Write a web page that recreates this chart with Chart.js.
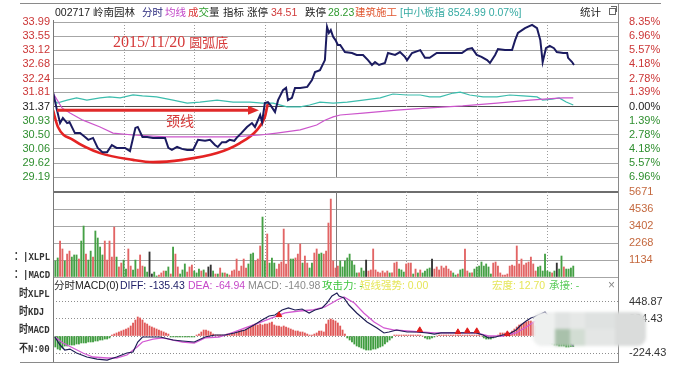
<!DOCTYPE html>
<html lang="zh">
<head>
<meta charset="UTF-8">
<title>002717 岭南园林 分时</title>
<script src="https://cdn.jsdelivr.net/npm/chart.js"></script>
<style>
  html, body { margin: 0; padding: 0; background: #fff; }
  body {
    width: 677px; height: 372px; position: relative; overflow: hidden;
    font-family: 'Liberation Sans', 'Noto Sans CJK SC', sans-serif;
    font-size: 10.5px; color: #222;
  }
  canvas { position: absolute; left: 0; }
  .t { position: absolute; white-space: nowrap; line-height: 12px; }
  .ln { position: absolute; background: #8a8a8a; }
  .tab {
    position: absolute; white-space: nowrap; line-height: 12px;
    font-family: 'Liberation Mono', 'Noto Sans CJK SC', monospace;
    font-weight: bold; font-size: 11px; color: #333;
    transform: scaleX(0.82); transform-origin: left center;
  }
  .note { position: absolute; white-space: nowrap; color: #d63a3a; }
  #smudge { position: absolute; left: 533px; top: 312px; width: 113px; height: 34px;
            border-radius: 9px; background: #e7e9e8; filter: blur(1.6px); overflow: hidden; }
  #smudge i { position: absolute; display: block; }
</style>
</head>
<body>

<canvas id="price" width="677" height="185" style="top:0"></canvas>
<canvas id="vol" width="677" height="102" style="top:180px"></canvas>
<canvas id="macd" width="677" height="90" style="top:282px"></canvas>

<!-- frame -->
<div class="ln" style="left:20px;top:3px;width:641px;height:1px"></div>
<div class="ln" style="left:618px;top:3px;width:1px;height:360px"></div>
<div class="ln" style="left:53px;top:20px;width:1px;height:343px;background:#777"></div>
<div class="ln" style="left:20px;top:362px;width:599px;height:1px"></div>

<!-- header -->
<div class="t" style="left:55px;top:6px">002717 岭南园林</div>
<div class="t" style="left:142px;top:6px;color:#25257a">分时</div>
<div class="t" style="left:165px;top:6px;color:#c244c8">均线</div>
<div class="t" style="left:188px;top:6px"><span style="color:#d83232">成</span><span style="color:#2e9e2e">交</span>量</div>
<div class="t" style="left:223px;top:6px">指标</div>
<div class="t" style="left:247px;top:6px">涨停</div>
<div class="t" style="left:271px;top:6px;color:#d03a3a">34.51</div>
<div class="t" style="left:305px;top:6px">跌停</div>
<div class="t" style="left:328px;top:6px;color:#2e9a2e">28.23</div>
<div class="t" style="left:355px;top:6px;color:#e0552e">建筑施工</div>
<div class="t" style="left:400px;top:6px;color:#35aaa2">[中小板指 8524.99 0.07%]</div>
<div class="t" style="left:580px;top:6px">统计</div>
<div style="position:absolute;left:609px;top:8px;width:5px;height:5px;border:1px solid #666"></div>
<div style="position:absolute;left:611px;top:6px;width:5px;height:5px;border-top:1px solid #666;border-right:1px solid #666"></div>

<!-- annotations -->
<div class="note" style="left:113px;top:32px;font:16px 'Liberation Serif',serif;line-height:18px">2015/11/20 <span style="font:13px 'Noto Sans CJK SC';">圆弧底</span></div>
<div class="note" style="left:166px;top:112px;font:14px 'Noto Sans CJK SC';line-height:16px">颈线</div>

<!-- left tabs -->
<div class="tab" style="left:14px;top:251px">：|XLPL</div>
<div class="tab" style="left:14px;top:269px">：|MACD</div>
<div class="tab" style="left:19px;top:288px">时XLPL</div>
<div class="tab" style="left:19px;top:306px">时KDJ</div>
<div class="tab" style="left:19px;top:324px">时MACD</div>
<div class="tab" style="left:19px;top:343px">不N:00</div>

<!-- indicator header -->
<div class="t" style="left:54px;top:279px">分时MACD(0)</div>
<div class="t" style="left:120px;top:279px;color:#22226a">DIFF: -135.43</div>
<div class="t" style="left:188px;top:279px;color:#c648c8">DEA: -64.94</div>
<div class="t" style="left:248px;top:279px;color:#8a8a8a">MACD: -140.98</div>
<div class="t" style="left:322px;top:279px;color:#3cc43c">攻击力: -</div>
<div class="t" style="left:360px;top:279px;color:#e6e65a;filter:blur(0.5px)">短线强势: 0.00</div>
<div class="t" style="left:492px;top:279px;color:#e6e65a;filter:blur(0.5px)">宏度: 12.70</div>
<div class="t" style="left:549px;top:279px;color:#5ccc5c;filter:blur(0.4px)">承接: -</div>
<div class="t" style="left:608px;top:279px;color:#888;font-size:12px">×</div>

<div id="smudge">
  <i style="left:0;top:0;width:22px;height:34px;background:#eef0ef"></i>
  <i style="left:22px;top:0;width:15px;height:17px;background:#e0e3e2"></i>
  <i style="left:37px;top:0;width:15px;height:17px;background:#e6e8e7"></i>
  <i style="left:52px;top:0;width:30px;height:17px;background:#dfe2e1"></i>
  <i style="left:82px;top:0;width:31px;height:34px;background:#dadcdb"></i>
  <i style="left:22px;top:17px;width:15px;height:17px;background:#a9c1ab"></i>
  <i style="left:37px;top:17px;width:15px;height:17px;background:#d2ddd3"></i>
  <i style="left:52px;top:17px;width:30px;height:17px;background:#e4e6e5"></i>
</div>

<script>
// time axis: minutes from 9:30, 240 in the session
const halfHours = [30, 60, 90, 120, 150, 180, 210];

// price panel
const prevClose = 31.37;
const priceTicks = [29.19, 29.62, 30.06, 30.50, 30.93, 31.37, 31.81, 32.24, 32.68, 33.12, 33.55, 33.99];
const pctTicks = ['6.96%', '5.57%', '4.18%', '2.78%', '1.39%', '0.00%', '1.39%', '2.78%', '4.18%', '5.57%', '6.96%', '8.35%'];

const priceMin = [0, 1.7, 3, 4.2, 6, 7, 9.3, 11.5, 13.6, 15,
  17, 19, 21, 23, 25, 27, 28.5, 30.6, 32.7, 35,
  36, 38, 40, 42.5, 45.5, 47.6, 49, 50.5, 52.7, 54.8,
  57, 59.5, 61.6, 64.6, 66.7, 68.8, 70, 71.8, 73.5, 75,
  77, 78, 80, 82.4, 84.5, 85.8, 88, 88.8, 90, 91.3,
  92.6, 94.3, 95.6, 97.7, 99, 99.8, 101.5, 102.8, 105, 108,
  110, 111.3, 113.4, 115.5, 116.4, 117.2, 118, 119, 120, 121,
  122, 124, 127, 129, 131.7, 133.8, 135.5, 136.8, 138.5, 141,
  142.3, 145.3, 147.4, 149.5, 150.4, 152.5, 156, 158, 160, 163,
  166.5, 171.6, 173.7, 176, 178, 180, 182, 184.4, 185.6, 187.8,
  189, 192, 195, 196.3, 197.5, 200.5, 203.5, 205.6, 207, 208,
  209.4, 211, 212.8, 214, 216.7, 218.4, 218.8, 220.5, 221.3];
const priceVal = [31.82, 31.26, 30.86, 31.02, 30.86, 30.89, 30.55, 30.55, 30.43, 30.34,
  30.40, 30.09, 29.96, 29.96, 30.18, 30.09, 30.09, 30.09, 29.99, 30.71,
  30.74, 30.43, 30.43, 30.40, 30.40, 30.40, 30.09, 30.03, 30.12, 30.06,
  30.03, 30.03, 30.34, 30.31, 30.34, 30.18, 30.12, 30.27, 30.27, 30.34,
  30.31, 30.40, 30.55, 30.74, 30.86, 30.74, 31.11, 30.89, 31.48, 31.51,
  31.39, 31.20, 31.57, 31.88, 31.95, 31.57, 31.64, 31.95, 31.95, 31.98,
  32.19, 32.44, 32.50, 32.81, 33.84, 33.65, 33.74, 33.53, 33.43, 33.28,
  33.28, 33.06, 33.03, 32.97, 32.97, 32.81, 32.66, 32.75, 32.66, 32.72,
  33.03, 32.97, 33.06, 32.91, 32.81, 33.03, 33.12, 32.88, 32.88, 33.03,
  33.03, 33.03, 33.03, 33.15, 33.18, 32.97, 32.91, 32.81, 32.72, 32.97,
  33.15, 33.12, 33.12, 33.43, 33.65, 33.80, 33.90, 33.80, 33.43, 32.75,
  33.18, 33.25, 33.18, 33.06, 33.03, 33.03, 32.88, 32.75, 32.66];

// average price line
const avgMin = [0, 3.8, 7.2, 12.7, 20, 25.5, 34, 48.4, 62.4, 76.5, 88, 95, 105, 112, 115.5, 119, 122, 131.7, 146, 160, 174, 188.6, 202.6, 210, 216.7, 221];
const avgVal = [31.79, 31.33, 31.17, 30.95, 30.74, 30.55, 30.49, 30.43, 30.43, 30.43, 30.49, 30.55, 30.65, 30.80, 30.95, 31.05, 31.11, 31.17, 31.26, 31.33, 31.39, 31.48, 31.57, 31.61, 31.64, 31.64];

// 中小板指, drawn on the price scale
const idxMin = [0, 1.7, 6, 10, 14.4, 20, 24, 28.5, 34, 38,
  44, 51, 57, 62.4, 69.7, 76.5, 83.7, 89, 93.5, 99.4,
  102, 105, 109, 113.4, 119, 125, 131.7, 139, 144.4, 150.4,
  156, 160, 164.4, 170, 173, 177, 182.7, 188.6, 194, 199.7,
  205.6, 208, 212, 215, 218, 221];
const idxVal = [31.60, 31.48, 31.57, 31.64, 31.57, 31.64, 31.67, 31.64, 31.73, 31.70,
  31.67, 31.57, 31.48, 31.51, 31.57, 31.51, 31.51, 31.48, 31.48, 31.36,
  31.36, 31.36, 31.42, 31.51, 31.48, 31.51, 31.57, 31.64, 31.76, 31.73,
  31.73, 31.67, 31.67, 31.79, 31.82, 31.73, 31.67, 31.67, 31.73, 31.70,
  31.67, 31.57, 31.60, 31.64, 31.51, 31.42];

// hand-drawn rounding bottom and neckline arrow
const arcMin = [0, 2.1, 8.5, 20, 34, 42.5, 55, 69.7, 79.4, 86.7, 90, 91.3];
const arcVal = [31.26, 30.74, 30.34, 29.93, 29.72, 29.65, 29.72, 29.93, 30.24, 30.65, 31.05, 31.48];
const neckFrom = 1.7, neckTo = 87.5, neckPrice = 31.26;

// volume, one bar per minute
const volTicks = [0, 1134, 2268, 3402, 4536, 5671];
const volumes = [
  3930, 1070, 1270, 2400, 1870, 1070, 1530, 1730, 1330, 1470,
  1470, 1200, 2400, 3400, 1530, 1130, 1730, 1330, 3070, 2600,
  2000, 1470, 2400, 1130, 2400, 1330, 3330, 1330, 670, 930,
  1130, 530, 1870, 730, 470, 1130, 530, 1470, 730, 670,
  330, 1670, 200, 330, 70, 130, 270, 400, 400, 670,
  200, 2000, 1530, 670, 200, 470, 870, 330, 670, 800,
  400, 270, 530, 400, 470, 270, 670, 800, 400, 200,
  200, 600, 270, 270, 200, 130, 400, 470, 1200, 400,
  730, 1200, 600, 870, 1530, 1600, 1070, 1200, 2070,
  4000, 1070, 2870, 930, 1270, 930, 530, 870, 1000, 3200,
  870, 2200, 1200, 1200, 1270, 1530, 2200, 930, 1400, 930,
  600, 930, 1600, 1870, 1530, 1600, 1530, 1730, 3600,
  5200, 1070, 600, 730,
  1070, 670, 1070, 1270, 1530, 1070, 800, 270, 270, 600,
  400, 1130, 400, 470, 1870, 470, 330, 270, 400, 270,
  400, 270, 270, 930, 1000, 530, 470, 330, 870, 930,
  930, 200, 530, 270, 470, 270, 400, 530, 600, 1200,
  530, 670, 470, 730, 600, 730, 530, 400, 270, 130,
  200, 470, 530, 1870, 400, 270, 270, 530, 670,
  730, 1000, 730, 870, 670, 200, 930, 1000, 730, 270,
  130, 130, 200, 730, 800, 730, 2070, 870, 1200, 800,
  930, 1000, 1330, 870, 400, 670, 730, 400, 1530, 400,
  330, 270, 400, 930, 530, 1400, 670, 530, 530, 600,
  730];
const volDir =
  'rggrrgrrgg' + 'grggrggrgg' + 'ggrrrrrgrr' + 'ggrrggrrrg' + 'gkkggrrrgg' + 'rgrrgggrrr' +
  'gggrgrkkgr' + 'grgrgrrrrr' + 'rrrgggrrr' + 'ggrgggrrrr' + 'rrggrrrgrrggrrggrrr' + 'rrrr' +
  'ggggggggrg' + 'gkrrrrrrrr' + 'rgrrrgggrr' + 'rgrgrggggk' + 'rrrrrrrrgg' + 'rggrrgrgg' +
  'ggggggrrrr' + 'rrrrrrrrrr' + 'rrrrrggggg' + 'grgkggrggg' + 'g';

// 分时MACD
const macdTicks = [-224.43, 0, 224.43, 448.87];
const macdHist = [
  -26,
  -145, -172, -185, -158, -132, -132, -119, -119, -119, -106,
  -106, -92, -92, -92, -79, -79, -79, -66, -66, -53,
  -53, -40, -40, -26,
  13, 26, 40, 53, 66, 79, 92, 106, 132, 172,
  211, 251, 238, 211, 172, 158, 132, 119, 106, 92,
  79, 66, 53, 40, 26,
  -13, -13, -13, -13, -13, -13, -13, -13, -13, -13, -13,
  13, 26, 53, 79, 79, 66, 53, 26, 13, 13,
  13, 13, 13, 26, 26, 40, 40, 53, 66, 79,
  79, 92, 106, 119, 145, 158, 145, 158, 145, 158,
  158, 172, 185, 145, 132, 132, 119, 132, 119, 106,
  92, 79, 66, 66, 53, 53, 40, 26, 13, 13,
  26, 40, 66, 66, 53, 158, 211, 224, 211, 198,
  172, 132, 79, 26,
  -26, -53, -79, -106, -132, -145, -158, -172, -185, -185,
  -185, -172, -172, -158, -145, -132, -106, -79, -53, -26,
  13, 13, 13, 13, 13, 13, 13, 13, 13, 13, 13, 13,
  0, -26, -40, -40, -26, -13, 0,
  13, 13, 13, 13, 13, 13, 13, 13, 13, 13, 13, 13, 13, 13, 13, 13, 13,
  13, 0, -26, -40, -40, -40, -26, -13, 13, 40,
  40, 40, 40, 40, 66, 92, 119, 145, 158, 172,
  185, 198, 198, 185, 132, 66, 0, -40, -66, -79,
  -92, -106, -119, -119, -132, -132, -132, -145, -145, -141, -141];

const diffMin = [0.8, 3, 5, 7.2, 10, 14.4, 18.7, 23, 27, 31.4,
  34, 36, 38, 41, 45.5, 51, 55, 60, 64.6, 68.8,
  73, 77, 81.6, 85.4, 88.8, 91.8, 94.3, 97.3, 100, 102.8,
  105.8, 108.8, 111.3, 114.3, 116.4, 118.5, 120.6, 121.5, 123.6, 125.7,
  129, 133.4, 137.6, 140.6, 142.7, 146, 150.4, 154.6, 159, 162,
  164.8, 169, 173.3, 177.6, 179.7, 182.7, 185, 188, 191, 193.7,
  196.7, 198.8, 201, 203, 204.3, 209, 213.7, 218, 221];
const diffVal = [-13, -119, -185, -172, -224, -277, -304, -317, -277, -224,
  -211, -79, -13, -13, -13, -53, -66, -79, -13, 13,
  13, 40, 79, 145, 211, 264, 277, 343, 370, 343,
  356, 304, 343, 370, 436, 528, 568, 528, 502, 409,
  304, 185, 106, 40, 53, 79, 53, 53, 40, 26,
  40, 40, 40, 40, 40, 13, -26, -13, 13, 26,
  79, 145, 198, 238, 251, 317, 145, -26, -135];

const deaMin = [0.8, 4.2, 8.5, 12.7, 17, 23, 27, 31.4, 35.7, 38,
  42.5, 46.7, 51, 55, 60, 64.6, 70.5, 76, 81.6, 87.5,
  93, 98.6, 104.5, 110, 115.5, 118.5, 120.6, 123.6, 128, 132,
  136.4, 140.6, 145, 150.4, 156, 162, 169, 179.7, 185, 191,
  196.7, 201, 204.3, 209, 213.7, 221];
const deaVal = [-13, -92, -158, -224, -277, -290, -290, -251, -145, -79,
  -40, -26, -53, -79, -92, -26, -13, 40, 106, 172,
  238, 304, 330, 343, 383, 436, 475, 515, 436, 304,
  185, 106, 79, 66, 53, 40, 40, 40, 0, 0,
  40, 119, 185, 251, 145, -65];

// signal marks on the MACD lines
const sigMin = [96, 155.8, 172, 176, 180, 193];
const sigVal = [277, 79, 53, 66, 66, 26];

const pts = (xs, ys) => xs.map((x, i) => ({ x: x, y: ys[i] }));
const tickFont = { family: "'Liberation Sans', Arial, sans-serif", size: 11 };
const RED = '#cc3636', GREEN = '#2f8f2f';

const sessionLines = {
  id: 'sessionLines',
  beforeDatasetsDraw(chart) {
    const { ctx, chartArea: a, scales: { x } } = chart;
    ctx.save();
    ctx.lineWidth = 1;
    halfHours.forEach(m => {
      const px = Math.round(x.getPixelForValue(m)) + 0.5;
      ctx.strokeStyle = m === 120 ? '#7c7c7c' : '#9c9c9c';
      ctx.setLineDash(m === 120 ? [] : [1, 2]);
      ctx.beginPath();
      ctx.moveTo(px, a.top);
      ctx.lineTo(px, a.bottom);
      ctx.stroke();
    });
    ctx.restore();
  }
};

const neckArrow = {
  id: 'neckArrow',
  afterDatasetsDraw(chart) {
    const { ctx, scales: { x, y } } = chart;
    const x0 = x.getPixelForValue(neckFrom), x1 = x.getPixelForValue(neckTo);
    const yy = y.getPixelForValue(neckPrice);
    ctx.save();
    ctx.strokeStyle = ctx.fillStyle = '#e02a2a';
    ctx.lineWidth = 3;
    ctx.beginPath();
    ctx.moveTo(x0, yy);
    ctx.lineTo(x1 - 8, yy);
    ctx.stroke();
    ctx.beginPath();
    ctx.moveTo(x1, yy);
    ctx.lineTo(x1 - 11, yy - 4.5);
    ctx.lineTo(x1 - 11, yy + 4.5);
    ctx.closePath();
    ctx.fill();
    ctx.restore();
  }
};

function fixWidth(w) {
  return s => { s.width = w; s.paddingTop = 0; s.paddingBottom = 0; };
}
function fixTicks(list) {
  return s => { s.ticks = list.map(v => ({ value: v })); };
}
const baseOpts = {
  animation: false, responsive: false, events: [],
  plugins: { legend: { display: false }, tooltip: { enabled: false } }
};

new Chart(document.getElementById('price'), {
  type: 'line',
  data: {
    datasets: [
      { data: pts(priceMin, priceVal), borderColor: '#1b1b60', borderWidth: 2, pointRadius: 0 },
      { data: pts(avgMin, avgVal), borderColor: '#cc55cc', borderWidth: 1.2, pointRadius: 0 },
      { data: pts(idxMin, idxVal), borderColor: '#3cbdad', borderWidth: 1.2, pointRadius: 0 },
      { data: pts(arcMin, arcVal), borderColor: '#e42323', borderWidth: 2.6, pointRadius: 0,
        cubicInterpolationMode: 'monotone' }
    ]
  },
  options: {
    ...baseOpts,
    layout: { padding: { top: 22, bottom: 8, left: 0, right: 0 } },
    scales: {
      x: { type: 'linear', min: 0, max: 240, display: false },
      y: {
        position: 'left', min: 29.19, max: 33.99,
        afterBuildTicks: fixTicks(priceTicks), afterFit: fixWidth(53),
        ticks: { font: tickFont, padding: 3, autoSkip: false, callback: (v, i) => priceTicks[i].toFixed(2),
                 color: c => c.index < 5 ? GREEN : c.index === 5 ? '#222' : RED },
        grid: { drawTicks: false, color: c => c.tick && c.tick.value === prevClose ? '#4e4e4e' : '#a6a6a6' },
        border: { display: false }
      },
      y2: {
        position: 'right', min: 29.19, max: 33.99,
        afterBuildTicks: fixTicks(priceTicks), afterFit: fixWidth(59),
        ticks: { font: tickFont, padding: 3, autoSkip: false, callback: (v, i) => pctTicks[i],
                 color: c => c.index < 5 ? GREEN : c.index === 5 ? '#222' : RED },
        grid: { display: false }, border: { display: false }
      }
    }
  },
  plugins: [sessionLines, neckArrow]
});

const dirColor = { r: '#e26464', g: '#45a045', k: '#333333' };
new Chart(document.getElementById('vol'), {
  type: 'bar',
  data: {
    datasets: [{
      data: volumes.map((v, i) => ({ x: i, y: v })),
      backgroundColor: volumes.map((v, i) => dirColor[volDir[i]] || '#888'),
      barThickness: 1.2
    }]
  },
  options: {
    ...baseOpts,
    layout: { padding: { top: 12, bottom: 5, left: 0, right: 0 } },
    scales: {
      x: { type: 'linear', min: 0, max: 240, offset: false, display: false },
      y: {
        position: 'left', min: 0, max: 5671,
        afterBuildTicks: fixTicks(volTicks), afterFit: fixWidth(53),
        ticks: { display: false, autoSkip: false },
        grid: { drawTicks: false,
                color: c => c.tick && c.tick.value === 5671 ? '#6e6e6e' : '#a6a6a6',
                lineWidth: c => c.tick && c.tick.value === 5671 ? 2 : 1 },
        border: { display: false }
      },
      y2: {
        position: 'right', min: 0, max: 5671,
        afterBuildTicks: fixTicks(volTicks), afterFit: fixWidth(59),
        ticks: { font: tickFont, padding: 3, autoSkip: false, color: '#c4683e', callback: v => v === 0 ? '' : String(v) },
        grid: { display: false }, border: { display: false }
      }
    }
  },
  plugins: [sessionLines]
});

new Chart(document.getElementById('macd'), {
  type: 'bar',
  data: {
    datasets: [
      { type: 'scatter', data: pts(sigMin, sigVal), pointStyle: 'triangle', pointRadius: 3.2,
        backgroundColor: '#e01c1c', borderColor: '#e01c1c', order: 0 },
      { type: 'line', data: pts(diffMin, diffVal), borderColor: '#1e1e55', borderWidth: 1.2, pointRadius: 0, order: 1 },
      { type: 'line', data: pts(deaMin, deaVal), borderColor: '#d35ad3', borderWidth: 1.3, pointRadius: 0, order: 2 },
      { type: 'bar', data: macdHist.map((v, i) => ({ x: i, y: v })),
        backgroundColor: macdHist.map(v => v >= 0 ? '#e05858' : '#3f9c3f'),
        barThickness: 1.2, order: 3 }
    ]
  },
  options: {
    ...baseOpts,
    layout: { padding: { top: 8, bottom: 10, left: 0, right: 0 } },
    scales: {
      x: { type: 'linear', min: 0, max: 240, offset: false, display: false },
      y: {
        position: 'left', min: -343, max: 607,
        afterBuildTicks: fixTicks(macdTicks), afterFit: fixWidth(53),
        ticks: { display: false, autoSkip: false },
        grid: { drawTicks: false, color: '#8e8e8e' },
        border: { display: false, dash: [1, 2] }
      },
      y2: {
        position: 'right', min: -343, max: 607,
        afterBuildTicks: fixTicks(macdTicks), afterFit: fixWidth(59),
        ticks: { font: tickFont, padding: 3, autoSkip: false, color: '#333',
                 callback: (v, i) => macdTicks[i] === 0 ? '' : macdTicks[i].toFixed(2) },
        grid: { display: false }, border: { display: false }
      }
    }
  }
});
</script>
</body>
</html>
